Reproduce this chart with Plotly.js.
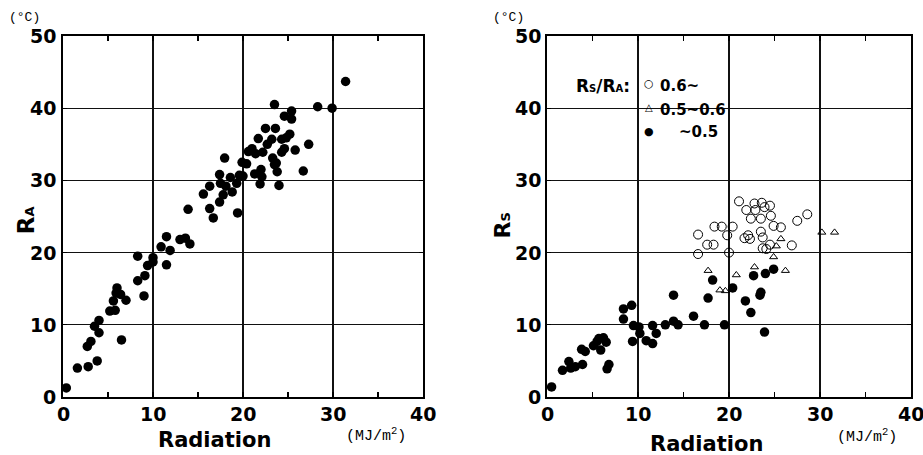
<!DOCTYPE html>
<html>
<head>
<meta charset="utf-8">
<script src="https://cdn.plot.ly/plotly-3.0.1.min.js"></script>
<style>html,body{margin:0;padding:0;background:#fff;}#chart{width:923px;height:455px;}</style>
</head>
<body>
<div id="chart"></div>
<script>
// Left panel: R_A vs Radiation
const raX = [0.37,1.6,2.7,2.8,3.1,3.5,4.0,4.0,3.8,5.2,5.6,5.8,6.0,5.9,6.4,7.0,6.5,8.3,8.3,9.0,9.1,9.4,10.0,10.0,10.9,11.5,11.5,11.9,13.0,13.6,14.1,13.9,15.6,16.3,16.3,16.7,17.4,17.5,17.4,17.8,17.96,18.1,18.6,18.8,19.3,19.4,19.6,20.0,19.9,20.4,20.6,21.0,21.4,21.3,21.7,21.9,22.0,22.1,22.2,22.5,22.7,23.2,23.5,23.3,23.5,23.6,23.7,23.8,24.0,24.3,24.6,24.3,24.6,24.8,25.2,25.4,25.4,25.8,26.7,27.3,28.3,29.9,31.4];
const raY = [1.25,4.0,7.0,4.2,7.7,9.8,8.9,10.6,5.0,11.9,13.3,12.0,15.1,14.4,14.2,13.4,7.9,16.1,19.5,14.0,16.8,18.2,19.3,18.7,20.8,22.2,18.3,20.3,21.8,22.0,21.2,26.0,28.1,29.2,26.1,24.8,30.8,29.6,27.0,28.0,33.1,29.2,30.4,28.4,29.6,25.5,30.7,30.6,32.5,32.3,34.0,34.4,33.7,30.9,35.8,29.5,31.5,30.5,33.9,37.2,35.0,35.7,40.5,33.1,32.2,37.2,32.4,31.2,29.3,33.9,34.4,35.7,38.9,35.9,36.4,39.6,38.5,34.2,31.3,35.0,40.2,40.0,43.7];

// Right panel: R_S vs Radiation, grouped by R_S/R_A
const hiX = [16.6,16.6,17.6,18.3,18.4,19.2,19.8,20.0,20.4,21.1,21.9,21.7,22.1,22.3,22.4,22.8,22.9,23.6,23.9,23.5,23.5,23.7,23.7,24.1,24.5,24.6,24.5,24.9,25.7,26.9,27.5,28.6];
const hiY = [22.5,19.8,21.1,21.1,23.6,23.6,22.4,20.0,23.6,27.1,25.9,22.0,22.4,21.9,24.7,26.8,25.9,26.9,26.3,24.7,22.9,22.1,20.6,20.5,26.5,25.1,21.1,23.7,23.5,21.0,24.4,25.3];
const midX = [17.7,19.0,19.6,20.8,22.8,24.9,25.2,25.7,26.2,30.2,31.6];
const midY = [17.5,14.8,14.7,16.9,18.0,19.4,20.9,21.9,17.5,22.8,22.8];
const loX = [0.5,1.7,2.4,2.6,3.1,3.8,3.9,4.2,5.1,5.5,5.7,5.9,6.2,6.5,6.6,6.8,8.4,8.4,9.3,9.4,9.5,10.1,10.2,10.9,11.6,11.6,12.0,13.0,13.9,13.9,14.4,16.1,17.3,17.7,18.2,19.5,20.4,21.8,22.4,22.7,23.4,23.5,23.9,24.0,24.9];
const loY = [1.4,3.7,4.9,4.0,4.2,6.6,4.5,6.3,7.1,7.7,8.1,6.5,8.2,7.6,3.9,4.5,12.2,10.8,12.7,7.7,9.9,9.7,8.8,7.8,9.9,7.4,8.8,10.0,14.1,10.5,10.0,11.2,10.0,13.7,16.2,10.0,15.1,13.3,11.7,16.8,14.1,14.5,9.0,17.1,17.7];

const legendNames = ["0.6~", "0.5~0.6", "~0.5"];
const legendSymbols = ["\u25CB", "\u25B3", "\u25CF"];
const xTicks = [0,10,20,30,40];
const yTicks = [0,10,20,30,40,50];

const TICKFONT = {family: "DejaVu Sans", size: 19, color: "#000", weight: "bold"};

const traces = [
  {x: raX, y: raY, xaxis: "x", yaxis: "y", type: "scatter", mode: "markers",
   marker: {color: "#000", size: 9.5, symbol: "circle"}, showlegend: false},
  {x: hiX, y: hiY, xaxis: "x2", yaxis: "y2", type: "scatter", mode: "markers", name: legendNames[0], showlegend: false,
   marker: {color: "#000", size: 9, symbol: "circle-open", line: {width: 1, color: "#000"}}},
  {x: midX, y: midY, xaxis: "x2", yaxis: "y2", type: "scatter", mode: "markers", name: legendNames[1], showlegend: false,
   marker: {color: "#000", size: 7, symbol: "triangle-up-open", line: {width: 1, color: "#000"}}},
  {x: loX, y: loY, xaxis: "x2", yaxis: "y2", type: "scatter", mode: "markers", name: legendNames[2], showlegend: false,
   marker: {color: "#000", size: 9.5, symbol: "circle"}}
];

function xAx(domain, anchor) {
  return {domain: domain, anchor: anchor, range: [0, 40], tickvals: xTicks, showticklabels: false,
    showgrid: true, gridcolor: "#111", gridwidth: 1.2, zeroline: false,
    showline: true, linecolor: "#000", linewidth: 2, mirror: "ticks",
    ticks: "inside", ticklen: 4, tickcolor: "#000", tickwidth: 1.2,
    minor: {dtick: 5, ticks: "inside", ticklen: 5, tickcolor: "#000", tickwidth: 1.2, showgrid: false},
    fixedrange: true};
}
function yAx(anchor) {
  return {domain: [0, 1], anchor: anchor, range: [0, 50], tickvals: yTicks, showticklabels: false,
    showgrid: true, gridcolor: "#111", gridwidth: 1.2, zeroline: false,
    showline: true, linecolor: "#000", linewidth: 2, mirror: "ticks",
    ticks: "inside", ticklen: 4, tickcolor: "#000", tickwidth: 1.2,
    fixedrange: true};
}

const mono = {family: "Liberation Mono", size: 13, color: "#000"};
const monoBig = {family: "Liberation Mono", size: 15, color: "#000"};
const titleFont = {family: "DejaVu Sans", size: 21, color: "#000", weight: "bold"};
const legFont = {family: "DejaVu Sans", size: 15, color: "#000", weight: "bold"};

function ann(text, x, y, xanchor, font, extra) {
  return Object.assign({text: text, xref: "paper", yref: "paper", x: x, y: y, xanchor: xanchor, yanchor: "middle", showarrow: false, font: font}, extra || {});
}

const annotations = [
  ann("(°C)", -0.066, 1.05, "left", mono),
  ann("(°C)", 0.505, 1.05, "left", mono),
  ann("Radiation", 0.179, -0.119, "center", titleFont),
  ann("Radiation", 0.759, -0.13, "center", titleFont),
  ann("(MJ/m<sup>2</sup>)", 0.369, -0.105, "center", monoBig),
  ann("(MJ/m<sup>2</sup>)", 0.948, -0.108, "center", monoBig),
  ann("R<span style='font-size:13px'>A</span>", -0.0436, 0.49, "center", {family: "DejaVu Sans", size: 23, color: "#000", weight: "bold"}, {textangle: -90}),
  ann("R<span style='font-size:13px'>S</span>", 0.518, 0.476, "center", {family: "DejaVu Sans", size: 22, color: "#000", weight: "bold"}, {textangle: -90}),
  // legend
  ann("R<span style='font-size:10px'>S</span>/R<span style='font-size:10px'>A</span>:", 0.603, 0.8615, "left", {family: "DejaVu Sans", size: 17, color: "#000", weight: "bold"}),
  ann(legendSymbols[0], 0.691, 0.869, "center", {family: "DejaVu Sans", size: 11, color: "#000"}),
  ann(legendSymbols[1], 0.691, 0.8015, "center", {family: "DejaVu Sans", size: 10, color: "#000"}),
  ann(legendSymbols[2], 0.691, 0.7368, "center", {family: "DejaVu Sans", size: 11, color: "#000"}),
  ann(legendNames[0], 0.7015, 0.861, "left", legFont),
  ann(legendNames[1], 0.7015, 0.796, "left", legFont),
  ann(legendNames[2], 0.7748, 0.733, "right", legFont)
];

// bold tick labels, positioned by the axes' own scales
["x", "x2"].forEach(function (ax) {
  xTicks.forEach(function (v) {
    annotations.push({text: String(v), xref: ax, yref: "paper", x: v, y: 0, yshift: -17,
      xanchor: "center", yanchor: "middle", showarrow: false, font: TICKFONT});
  });
});
[["x domain", "y", -5], ["x2 domain", "y2", -4]].forEach(function (r) {
  yTicks.forEach(function (v) {
    annotations.push({text: String(v), xref: r[0], yref: r[1], x: 0, y: v, xshift: r[2],
      xanchor: "right", yanchor: "middle", showarrow: false, font: TICKFONT});
  });
});

const layout = {
  width: 923, height: 455,
  margin: {l: 63, r: 12, t: 36, b: 58, pad: 0},
  paper_bgcolor: "#fff", plot_bgcolor: "#fff",
  xaxis: xAx([0, 0.4245], "y"),
  yaxis: yAx("x"),
  xaxis2: xAx([0.5708, 1], "y2"),
  yaxis2: yAx("x2"),
  showlegend: false,
  annotations: annotations
};

Plotly.newPlot("chart", traces, layout, {displayModeBar: false, staticPlot: true});
</script>
</body>
</html>
